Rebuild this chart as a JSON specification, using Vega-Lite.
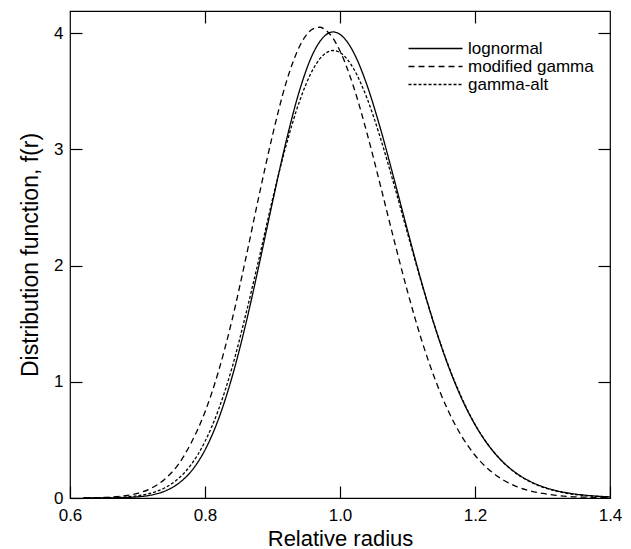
{
  "$schema": "https://vega.github.io/schema/vega-lite/v6.json",
  "width": 540,
  "height": 487,
  "autosize": {"type": "none"},
  "padding": {"left": 70, "top": 11, "right": 21, "bottom": 51},
  "background": "white",
  "config": {
    "view": {"stroke": "black", "strokeWidth": 1.2},
    "font": "Liberation Sans",
    "axis": {"grid": false, "domain": false, "tickColor": "black", "tickWidth": 1.2, "labelColor": "black", "titleColor": "black", "titleFontWeight": "normal", "labelFlush": false}
  },
  "datasets": {
    "curves": [
      {"model": "lognormal", "r": 0.62, "f": 0.0},
      {"model": "lognormal", "r": 0.64, "f": 0.0003},
      {"model": "lognormal", "r": 0.66, "f": 0.0011},
      {"model": "lognormal", "r": 0.68, "f": 0.0035},
      {"model": "lognormal", "r": 0.70, "f": 0.0099},
      {"model": "lognormal", "r": 0.72, "f": 0.025},
      {"model": "lognormal", "r": 0.74, "f": 0.058},
      {"model": "lognormal", "r": 0.76, "f": 0.122},
      {"model": "lognormal", "r": 0.78, "f": 0.233},
      {"model": "lognormal", "r": 0.80, "f": 0.413},
      {"model": "lognormal", "r": 0.82, "f": 0.679},
      {"model": "lognormal", "r": 0.84, "f": 1.039},
      {"model": "lognormal", "r": 0.86, "f": 1.487},
      {"model": "lognormal", "r": 0.88, "f": 2.003},
      {"model": "lognormal", "r": 0.90, "f": 2.545},
      {"model": "lognormal", "r": 0.92, "f": 3.064},
      {"model": "lognormal", "r": 0.94, "f": 3.505},
      {"model": "lognormal", "r": 0.96, "f": 3.824},
      {"model": "lognormal", "r": 0.97, "f": 3.926},
      {"model": "lognormal", "r": 0.98, "f": 3.989},
      {"model": "lognormal", "r": 0.99, "f": 4.010},
      {"model": "lognormal", "r": 1.00, "f": 3.989},
      {"model": "lognormal", "r": 1.01, "f": 3.930},
      {"model": "lognormal", "r": 1.02, "f": 3.835},
      {"model": "lognormal", "r": 1.04, "f": 3.552},
      {"model": "lognormal", "r": 1.06, "f": 3.176},
      {"model": "lognormal", "r": 1.08, "f": 2.747},
      {"model": "lognormal", "r": 1.10, "f": 2.303},
      {"model": "lognormal", "r": 1.12, "f": 1.874},
      {"model": "lognormal", "r": 1.14, "f": 1.484},
      {"model": "lognormal", "r": 1.16, "f": 1.143},
      {"model": "lognormal", "r": 1.18, "f": 0.859},
      {"model": "lognormal", "r": 1.20, "f": 0.631},
      {"model": "lognormal", "r": 1.22, "f": 0.453},
      {"model": "lognormal", "r": 1.24, "f": 0.318},
      {"model": "lognormal", "r": 1.26, "f": 0.219},
      {"model": "lognormal", "r": 1.28, "f": 0.148},
      {"model": "lognormal", "r": 1.30, "f": 0.098},
      {"model": "lognormal", "r": 1.32, "f": 0.064},
      {"model": "lognormal", "r": 1.34, "f": 0.041},
      {"model": "lognormal", "r": 1.36, "f": 0.026},
      {"model": "lognormal", "r": 1.38, "f": 0.016},
      {"model": "lognormal", "r": 1.40, "f": 0.010},

      {"model": "modified gamma", "r": 0.62, "f": 0.001},
      {"model": "modified gamma", "r": 0.64, "f": 0.003},
      {"model": "modified gamma", "r": 0.66, "f": 0.008},
      {"model": "modified gamma", "r": 0.68, "f": 0.019},
      {"model": "modified gamma", "r": 0.70, "f": 0.040},
      {"model": "modified gamma", "r": 0.72, "f": 0.083},
      {"model": "modified gamma", "r": 0.74, "f": 0.160},
      {"model": "modified gamma", "r": 0.76, "f": 0.285},
      {"model": "modified gamma", "r": 0.78, "f": 0.480},
      {"model": "modified gamma", "r": 0.80, "f": 0.740},
      {"model": "modified gamma", "r": 0.82, "f": 1.090},
      {"model": "modified gamma", "r": 0.84, "f": 1.530},
      {"model": "modified gamma", "r": 0.86, "f": 2.050},
      {"model": "modified gamma", "r": 0.88, "f": 2.600},
      {"model": "modified gamma", "r": 0.90, "f": 3.120},
      {"model": "modified gamma", "r": 0.92, "f": 3.570},
      {"model": "modified gamma", "r": 0.94, "f": 3.885},
      {"model": "modified gamma", "r": 0.95, "f": 3.982},
      {"model": "modified gamma", "r": 0.96, "f": 4.037},
      {"model": "modified gamma", "r": 0.97, "f": 4.050},
      {"model": "modified gamma", "r": 0.98, "f": 4.020},
      {"model": "modified gamma", "r": 0.99, "f": 3.952},
      {"model": "modified gamma", "r": 1.00, "f": 3.846},
      {"model": "modified gamma", "r": 1.02, "f": 3.540},
      {"model": "modified gamma", "r": 1.04, "f": 3.139},
      {"model": "modified gamma", "r": 1.06, "f": 2.686},
      {"model": "modified gamma", "r": 1.08, "f": 2.221},
      {"model": "modified gamma", "r": 1.10, "f": 1.777},
      {"model": "modified gamma", "r": 1.12, "f": 1.375},
      {"model": "modified gamma", "r": 1.14, "f": 1.034},
      {"model": "modified gamma", "r": 1.16, "f": 0.754},
      {"model": "modified gamma", "r": 1.18, "f": 0.534},
      {"model": "modified gamma", "r": 1.20, "f": 0.368},
      {"model": "modified gamma", "r": 1.22, "f": 0.247},
      {"model": "modified gamma", "r": 1.24, "f": 0.162},
      {"model": "modified gamma", "r": 1.26, "f": 0.103},
      {"model": "modified gamma", "r": 1.28, "f": 0.064},
      {"model": "modified gamma", "r": 1.30, "f": 0.039},
      {"model": "modified gamma", "r": 1.32, "f": 0.023},
      {"model": "modified gamma", "r": 1.34, "f": 0.013},
      {"model": "modified gamma", "r": 1.36, "f": 0.008},
      {"model": "modified gamma", "r": 1.38, "f": 0.004},
      {"model": "modified gamma", "r": 1.40, "f": 0.002},

      {"model": "gamma-alt", "r": 0.62, "f": 0.0},
      {"model": "gamma-alt", "r": 0.64, "f": 0.001},
      {"model": "gamma-alt", "r": 0.66, "f": 0.003},
      {"model": "gamma-alt", "r": 0.68, "f": 0.008},
      {"model": "gamma-alt", "r": 0.70, "f": 0.019},
      {"model": "gamma-alt", "r": 0.72, "f": 0.042},
      {"model": "gamma-alt", "r": 0.74, "f": 0.086},
      {"model": "gamma-alt", "r": 0.76, "f": 0.164},
      {"model": "gamma-alt", "r": 0.78, "f": 0.291},
      {"model": "gamma-alt", "r": 0.80, "f": 0.486},
      {"model": "gamma-alt", "r": 0.82, "f": 0.760},
      {"model": "gamma-alt", "r": 0.84, "f": 1.120},
      {"model": "gamma-alt", "r": 0.86, "f": 1.570},
      {"model": "gamma-alt", "r": 0.88, "f": 2.060},
      {"model": "gamma-alt", "r": 0.90, "f": 2.570},
      {"model": "gamma-alt", "r": 0.92, "f": 3.030},
      {"model": "gamma-alt", "r": 0.94, "f": 3.413},
      {"model": "gamma-alt", "r": 0.96, "f": 3.688},
      {"model": "gamma-alt", "r": 0.97, "f": 3.778},
      {"model": "gamma-alt", "r": 0.98, "f": 3.832},
      {"model": "gamma-alt", "r": 0.99, "f": 3.850},
      {"model": "gamma-alt", "r": 1.00, "f": 3.832},
      {"model": "gamma-alt", "r": 1.01, "f": 3.780},
      {"model": "gamma-alt", "r": 1.02, "f": 3.695},
      {"model": "gamma-alt", "r": 1.04, "f": 3.440},
      {"model": "gamma-alt", "r": 1.06, "f": 3.095},
      {"model": "gamma-alt", "r": 1.08, "f": 2.697},
      {"model": "gamma-alt", "r": 1.10, "f": 2.278},
      {"model": "gamma-alt", "r": 1.12, "f": 1.866},
      {"model": "gamma-alt", "r": 1.14, "f": 1.485},
      {"model": "gamma-alt", "r": 1.16, "f": 1.149},
      {"model": "gamma-alt", "r": 1.18, "f": 0.866},
      {"model": "gamma-alt", "r": 1.20, "f": 0.634},
      {"model": "gamma-alt", "r": 1.22, "f": 0.454},
      {"model": "gamma-alt", "r": 1.24, "f": 0.317},
      {"model": "gamma-alt", "r": 1.26, "f": 0.216},
      {"model": "gamma-alt", "r": 1.28, "f": 0.144},
      {"model": "gamma-alt", "r": 1.30, "f": 0.094},
      {"model": "gamma-alt", "r": 1.32, "f": 0.060},
      {"model": "gamma-alt", "r": 1.34, "f": 0.037},
      {"model": "gamma-alt", "r": 1.36, "f": 0.023},
      {"model": "gamma-alt", "r": 1.38, "f": 0.014},
      {"model": "gamma-alt", "r": 1.40, "f": 0.008}
    ]
  },
  "data": {"name": "curves"},
  "layer": [
    {
      "mark": {"type": "line", "interpolate": "monotone", "color": "black", "strokeWidth": 1.3},
      "encoding": {
        "x": {
          "field": "r", "type": "quantitative",
          "scale": {"domain": [0.6, 1.4], "nice": false, "zero": false},
          "axis": {"orient": "bottom", "values": [0.6, 0.8, 1.0, 1.2, 1.4], "format": ".1f", "tickSize": -12, "labelPadding": 21, "labelFontSize": 17, "title": "Relative radius", "titleFontSize": 22, "titlePadding": 5}
        },
        "y": {
          "field": "f", "type": "quantitative",
          "scale": {"domain": [0, 4.19], "nice": false},
          "axis": {"orient": "left", "values": [0, 1, 2, 3, 4], "format": "d", "tickSize": -12, "labelPadding": 19, "labelFontSize": 17, "title": "Distribution function, f(r)", "titleFontSize": 23, "titlePadding": 11}
        },
        "strokeDash": {
          "field": "model", "type": "nominal",
          "scale": {"domain": ["lognormal", "modified gamma", "gamma-alt"], "range": [[1, 0], [6, 4], [3, 2]]},
          "legend": {"orient": "none", "legendX": 357, "legendY": 29, "title": null, "symbolType": "M-6,0H6", "symbolSize": 81, "symbolStrokeWidth": 1.3, "symbolStrokeColor": "black", "labelFontSize": 17, "labelOffset": 24, "rowPadding": 0, "padding": 0, "labelColor": "black", "labelFont": "Liberation Sans"}
        }
      }
    },
    {
      "mark": {"type": "line", "opacity": 0},
      "encoding": {
        "x": {"field": "r", "type": "quantitative", "axis": {"orient": "top", "values": [0.8, 1.0, 1.2], "labels": false, "title": null, "tickSize": -12}},
        "y": {"field": "f", "type": "quantitative", "axis": {"orient": "right", "values": [1, 2, 3, 4], "labels": false, "title": null, "tickSize": -12}},
        "detail": {"field": "model", "type": "nominal"}
      }
    }
  ],
  "resolve": {"axis": {"x": "independent", "y": "independent"}}
}
